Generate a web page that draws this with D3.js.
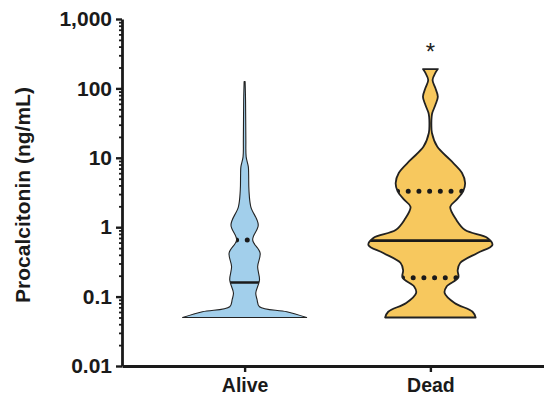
<!DOCTYPE html>
<html>
<head>
<meta charset="utf-8">
<script src="https://cdn.jsdelivr.net/npm/d3@7"></script>
<style>
  body { margin: 0; background: #fff; }
  text { font-family: "Liberation Sans", Arial, sans-serif; }
</style>
</head>
<body>
<script>
//W and H
var w = 544;
var h = 397;

//groups and summary stats (ng/mL)
var groups = ["Alive", "Dead"];
var medians = [0.16, 0.64];
var upperQuartiles = [0.655, 3.3];
var lowerQuartiles = [null, 0.187];   //alive lower quartile sits on the minimum
var significance = ["", "*"];

//violin outlines: level (ng/mL) and relative density
var aliveLevels  = [0.05, 0.0605, 0.0714, 0.091, 0.113, 0.173, 0.27, 0.425, 0.655, 1.08, 1.97, 3.4, 5.65, 7.4, 10.3, 18, 68, 125];
var aliveDensity = [1.0, 0.68, 0.24, 0.2, 0.18, 0.24, 0.21, 0.25, 0.13, 0.22, 0.1, 0.07, 0.065, 0.06, 0.025, 0.02, 0.015, 0.008];

var deadLevels  = [0.05, 0.0605, 0.081, 0.113, 0.139, 0.187, 0.24, 0.305, 0.425, 0.555, 0.70, 0.91, 1.27, 1.97, 2.47, 3.3, 4.33, 6.04, 9.3, 14.5, 22.8, 29.7, 38.7, 44.2, 57.6, 76, 101, 132, 167, 190];
var deadDensity = [0.73, 0.68, 0.39, 0.23, 0.26, 0.45, 0.44, 0.48, 0.76, 1.0, 0.92, 0.56, 0.42, 0.32, 0.42, 0.53, 0.56, 0.51, 0.32, 0.11, 0.025, 0.016, 0.02, 0.03, 0.08, 0.12, 0.08, 0.035, 0.08, 0.12];

//axis ticks
var yTicks = [0.01, 0.1, 1, 10, 100, 1000];
var yTickLabels = ["0.01", "0.1", "1", "10", "100", "1,000"];

var fills = ["#a2cfeb", "#f7c85e"];
var strokeW = [1.1, 1.8];

var profiles = [
    aliveLevels.map(function(v, i) { return { v: v, d: aliveDensity[i] }; }),
    deadLevels.map(function(v, i) { return { v: v, d: deadDensity[i] }; })
];

//Scales
var y = d3.scaleLog()
    .domain([0.01, 1000])
    .range([366, 19]);

var x = d3.scalePoint()
    .domain(groups)
    .range([122, 553])
    .padding(0.66);

var halfW = d3.scaleLinear()
    .domain([0, 1])
    .range([0, 62]);

//density at a level, linear in log space
function densityAt(prof, v) {
    for (var i = 0; i < prof.length - 1; i++) {
        if (v >= prof[i].v && v <= prof[i + 1].v) {
            var t = (Math.log(v) - Math.log(prof[i].v)) / (Math.log(prof[i + 1].v) - Math.log(prof[i].v));
            return prof[i].d + t * (prof[i + 1].d - prof[i].d);
        }
    }
    return 0;
}

//SVG
var svg = d3.select("body")
    .append("svg")
    .attr("width", w)
    .attr("height", h);

var defs = svg.append("defs");

groups.forEach(function(g, i) {
    var cx = x(g);
    var prof = profiles[i];

    var area = d3.area()
        .curve(d3.curveCatmullRom.alpha(0.5))
        .y(function(d) { return y(d.v); })
        .x0(function(d) { return cx - halfW(d.d); })
        .x1(function(d) { return cx + halfW(d.d); });

    defs.append("clipPath")
        .attr("id", "clip" + i)
        .append("path")
        .attr("d", area(prof));

    svg.append("path")
        .attr("d", area(prof))
        .attr("fill", fills[i]);

    var inner = svg.append("g").attr("clip-path", "url(#clip" + i + ")");

    //median
    inner.append("line")
        .attr("x1", cx - halfW(1.1))
        .attr("x2", cx + halfW(1.1))
        .attr("y1", y(medians[i]))
        .attr("y2", y(medians[i]))
        .attr("stroke", "#1a1a1a")
        .attr("stroke-width", 2.6);

    //quartiles as dotted lines starting at the left edge
    [upperQuartiles[i], lowerQuartiles[i]].forEach(function(q) {
        if (q == null) return;
        var hw = halfW(densityAt(prof, q));
        inner.append("line")
            .attr("x1", cx - hw)
            .attr("x2", cx + hw + 12)
            .attr("y1", y(q))
            .attr("y2", y(q))
            .attr("stroke", "#1a1a1a")
            .attr("stroke-width", 5)
            .attr("stroke-linecap", "round")
            .attr("stroke-dasharray", "0 10.7");
    });

    svg.append("path")
        .attr("d", area(prof))
        .attr("fill", "none")
        .attr("stroke", "#222")
        .attr("stroke-width", strokeW[i])
        .attr("stroke-linejoin", "round");

    if (significance[i]) {
        svg.append("text")
            .attr("x", cx)
            .attr("y", 60)
            .attr("text-anchor", "middle")
            .attr("font-size", 24)
            .attr("fill", "#222")
            .text(significance[i]);
    }
});

//minor log ticks
var minorTicks = [];
yTicks.slice(0, -1).forEach(function(t) {
    for (var k = 2; k <= 9; k++) minorTicks.push(t * k);
});

svg.append("g")
    .attr("transform", "translate(122,0)")
    .call(d3.axisLeft(y).tickValues(minorTicks).tickSize(3).tickFormat(""))
    .call(function(g) { g.select(".domain").remove(); })
    .selectAll("line").attr("stroke", "#1a1a1a").attr("stroke-width", 1.8);

//y axis
var yAxis = d3.axisLeft(y)
    .tickValues(yTicks)
    .tickSize(6)
    .tickSizeOuter(0)
    .tickPadding(4)
    .tickFormat(function(d, i) { return yTickLabels[i]; });

var gy = svg.append("g")
    .attr("transform", "translate(122,0)")
    .call(yAxis);

//x axis
var xAxis = d3.axisBottom(x)
    .tickSize(6)
    .tickSizeOuter(0)
    .tickPadding(6);

var gx = svg.append("g")
    .attr("transform", "translate(0,366)")
    .call(xAxis);

[gx, gy].forEach(function(g) {
    g.select(".domain").attr("stroke", "#1a1a1a").attr("stroke-width", 2.8);
    g.selectAll(".tick line").attr("stroke", "#1a1a1a").attr("stroke-width", 2.4);
    g.selectAll("text")
        .attr("font-family", "'Liberation Sans', Arial, sans-serif")
        .attr("font-weight", "bold")
        .attr("fill", "#1a1a1a");
});
gy.selectAll("text").attr("font-size", 21);
gx.selectAll("text").attr("font-size", 19.5);

//axis title
svg.append("text")
    .attr("transform", "translate(29.5,195) rotate(-90)")
    .attr("text-anchor", "middle")
    .attr("font-size", 21)
    .attr("font-weight", "bold")
    .attr("fill", "#1a1a1a")
    .text("Procalcitonin (ng/mL)");
</script>
</body>
</html>
